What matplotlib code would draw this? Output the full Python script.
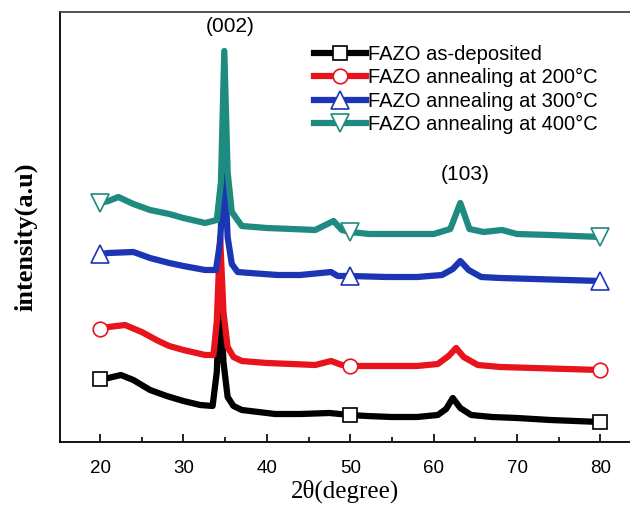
import matplotlib.pyplot as plt

# arbitrary intensity units (offset stacked)
x_dep = [20, 21, 22.5, 24, 26, 28, 30, 32, 33.5, 34.0, 34.4, 34.8, 35.3, 36, 37, 39, 41, 44, 47.5, 50, 52, 55, 58, 60.5, 61.5, 62.3, 63.2, 64.5, 67, 70, 74, 77, 80]
y_dep = [63, 64, 67, 62, 52, 46, 41, 37, 36, 70, 157, 80, 45, 36, 32, 30, 28, 28, 29, 27, 26, 25, 25, 27, 33, 44, 34, 27, 25, 24, 22, 21, 20]

x_200 = [20, 21, 23, 25, 27, 28.3, 30, 32.6, 33.6, 34.0, 34.4, 34.8, 35.3, 36, 37, 40, 43, 45.8, 47.7, 49, 50, 54, 58, 60.5, 61.8, 62.7, 63.6, 65.3, 68, 72, 76, 80]
y_200 = [113, 115, 117, 110, 101, 96, 92, 87, 87, 120, 205, 130, 95, 85, 81, 79, 78, 77, 81, 77, 76, 76, 76, 78, 86, 94, 85, 77, 75, 74, 73, 72]

x_300 = [20, 21, 24, 26, 28.3, 30, 32.6, 33.9, 34.4, 34.9, 35.3, 35.8, 36.5, 38, 41.3, 44, 47.7, 48.5, 50, 54.4, 58, 61, 62.3, 63.2, 64.2, 65.7, 68, 72, 76, 80]
y_300 = [188, 189, 190, 184, 179, 176, 172, 172, 200, 279, 205, 178, 170, 169, 167, 167, 170, 166, 166, 165, 165, 167, 173, 181, 172, 165, 164, 163, 162, 161]

x_400 = [20, 21, 22.2, 24, 26, 28.3, 30, 32.6, 34.0, 34.5, 34.9, 35.3, 35.8, 37, 40, 43, 45.8, 48, 49, 50, 52.3, 56, 60, 62, 63.2, 64.3, 66, 68.2, 70, 74, 77, 80]
y_400 = [239, 241, 245, 238, 232, 228, 224, 219, 222, 260, 391, 270, 230, 216, 214, 213, 212, 221, 212, 210, 208, 208, 208, 213, 239, 213, 210, 212, 208, 207, 206, 205]

series = [
    (x_dep, y_dep, 'black', 's', 10, 'FAZO as-deposited'),
    (x_200, y_200, '#e8141c', 'o', 10.5, 'FAZO annealing at 200\u00b0C'),
    (x_300, y_300, '#1c35b4', '^', 12.5, 'FAZO annealing at 300\u00b0C'),
    (x_400, y_400, '#1e8a80', 'v', 12.5, 'FAZO annealing at 400\u00b0C'),
]
marker_x = [20, 50, 80]

plt.rcParams['font.family'] = ['Liberation Sans', 'DejaVu Sans']

fig = plt.figure(figsize=(6.3, 5.07), dpi=100)
ax = fig.add_axes([60 / 630, 65 / 507, 570 / 630, 430 / 507])

for xs, ys, color, mk, ms, label in series:
    idx = [xs.index(m) for m in marker_x]
    ax.plot(xs, ys, color=color, lw=4.5, marker=mk, markevery=idx,
            markersize=ms, markerfacecolor='white', markeredgecolor=color,
            markeredgewidth=1.2, label=label, solid_joinstyle='round')

ax.set_xlim(15.2, 83.55)
ax.set_ylim(0, 430)
ax.set_xticks([20, 30, 40, 50, 60, 70, 80])
ax.set_xticks([25, 35, 45, 55, 65, 75], minor=True)
ax.set_yticks([])
ax.tick_params(axis='x', which='major', direction='in', length=6, width=1.2,
               labelsize=13.5, pad=13)
ax.tick_params(axis='x', which='minor', direction='in', length=3.5, width=1.2)
ax.spines['right'].set_visible(False)
for s in ['left', 'bottom', 'top']:
    ax.spines[s].set_linewidth(1.3)
ax.spines['top'].set_color('#444444')

ax.set_xlabel('2\u03b8(degree)', family=['Liberation Serif', 'DejaVu Serif'],
              fontsize=18, labelpad=2)
ax.set_ylabel('intensity(a.u)', family=['Liberation Serif', 'DejaVu Serif'],
              fontsize=19, fontweight='bold')
ax.yaxis.set_label_coords(-23 / 570, 0.477)

ax.text(35.6, 406, '(002)', ha='center', va='bottom', fontsize=15)
ax.text(63.8, 258, '(103)', ha='center', va='bottom', fontsize=15)

ax.legend(loc='upper left', bbox_to_anchor=(314 / 630, 1 - 45 / 507),
          bbox_transform=fig.transFigure, frameon=False, fontsize=14.5,
          handlelength=2.6, handletextpad=0.1, labelspacing=0.22,
          borderaxespad=0, borderpad=0)

fig.savefig('out.png', dpi=100)
